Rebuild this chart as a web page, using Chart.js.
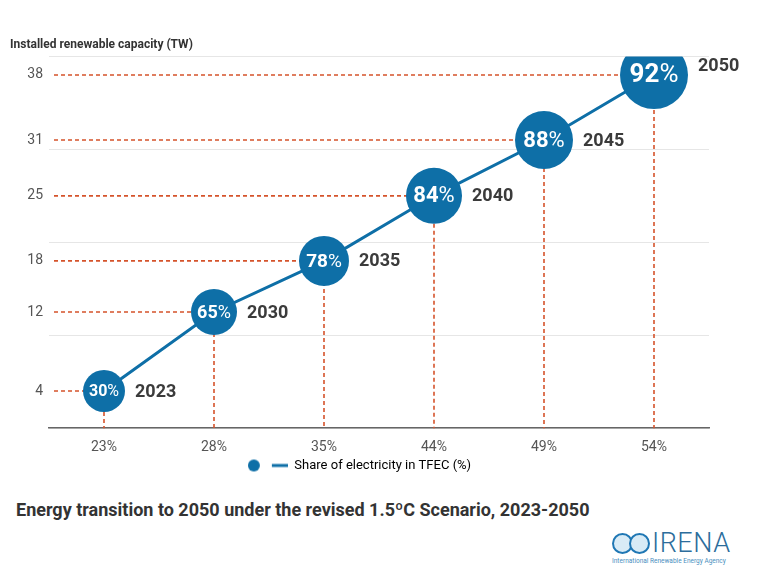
<!DOCTYPE html>
<html lang="en">
<head>
  <meta charset="UTF-8" />
  <title>Energy transition to 2050 - IRENA</title>
  <script src="https://cdn.jsdelivr.net/npm/chart.js"></script>
  <style>
    body {
      margin: 0;
      background: #ffffff;
      font-family: Roboto, sans-serif;
    }
    .wrap {
      position: relative;
      width: 760px;
      height: 580px;
    }
    #chartBox {
      position: absolute;
      left: 0;
      top: 0;
      width: 760px;
      height: 488px;
    }
    .caption {
      position: absolute;
      left: 16px;
      top: 499px;
      font-size: 18px;
      font-weight: bold;
      color: #333;
    }
    .logo {
      position: absolute;
      left: 611px;
      top: 530px;
      width: 120px;
      color: #2c6d9c;
    }
    .logo .rings {
      position: absolute;
      left: 1px;
      top: 3px;
    }
    .logo .ring {
      position: absolute;
      top: 0;
      width: 17px;
      height: 17px;
      border: 2px solid #1f77b4;
      border-radius: 50%;
      background: #d8ebf6;
    }
    .logo .name {
      position: absolute;
      left: 41px;
      top: -3px;
      font-size: 27px;
      font-weight: 300;
      letter-spacing: 0.5px;
    }
    .logo .sub {
      position: absolute;
      left: 1px;
      top: 27px;
      font-size: 6.5px;
      color: #4a8fc0;
      white-space: nowrap;
    }
  </style>
</head>
<body>
  <div class="wrap">
    <div id="chartBox"><canvas id="energyChart"></canvas></div>
    <div class="caption">Energy transition to 2050 under the revised 1.5ºC Scenario, 2023-2050</div>
    <div class="logo">
      <div class="rings">
        <div class="ring" style="left:0"></div>
        <div class="ring" style="left:17px"></div>
      </div>
      <div class="name">IRENA</div>
      <div class="sub">International Renewable Energy Agency</div>
    </div>
  </div>

  <script>
    // x categories: share of electricity in TFEC
    const tfecShare = ['23%', '28%', '35%', '44%', '49%', '54%'];
    // installed renewable capacity (TW)
    const capacity = [4, 12.5, 18, 25, 31, 38];
    const capacityLabels = ['4', '12', '18', '25', '31', '38'];
    // renewable share shown in the bubbles
    const renewShare = [30, 65, 78, 84, 88, 92];
    const years = ['2023', '2030', '2035', '2040', '2045', '2050'];

    const blue = '#0e6fa7';
    const red = '#d5532b';
    const bubbleSize = [21, 23, 25, 28, 29, 34];

    // dashed guides from the axes to every bubble
    const guides = {
      id: 'guides',
      beforeDatasetsDraw(chart) {
        const { ctx, chartArea } = chart;
        const pts = chart.getDatasetMeta(0).data;
        ctx.save();
        ctx.strokeStyle = red;
        ctx.lineWidth = 1.6;
        ctx.setLineDash([4, 3]);
        pts.forEach(p => {
          ctx.beginPath();
          ctx.moveTo(chartArea.left + 5, p.y);
          ctx.lineTo(p.x, p.y);
          ctx.moveTo(p.x, p.y);
          ctx.lineTo(p.x, chartArea.bottom);
          ctx.stroke();
        });
        ctx.restore();
      }
    };

    // percentages inside bubbles + year next to them
    const bubbleText = {
      id: 'bubbleText',
      afterDatasetsDraw(chart) {
        const ctx = chart.ctx;
        const pts = chart.getDatasetMeta(0).data;
        pts.forEach((p, i) => {
          const r = bubbleSize[i];
          const size = Math.round(r * 0.77);
          const num = String(renewShare[i]);
          ctx.save();
          ctx.textBaseline = 'middle';
          ctx.textAlign = 'left';
          ctx.fillStyle = '#ffffff';
          ctx.font = `bold ${size}px Roboto`;
          const w1 = ctx.measureText(num).width;
          ctx.font = `${size}px Roboto`;
          const w2 = ctx.measureText('%').width;
          const x0 = p.x - (w1 + w2) / 2;
          ctx.font = `bold ${size}px Roboto`;
          ctx.fillText(num, x0, p.y + 1);
          ctx.font = `${size}px Roboto`;
          ctx.fillText('%', x0 + w1, p.y + 1);

          ctx.fillStyle = '#3b3b3b';
          ctx.font = 'bold 18px Roboto';
          const dy = i === years.length - 1 ? -8 : 1;
          ctx.fillText(years[i], p.x + r + 10, p.y + dy);
          ctx.restore();
        });
      }
    };

    // legend marker: dot + line
    function legendMarker() {
      const c = document.createElement('canvas');
      c.width = 40;
      c.height = 14;
      const g = c.getContext('2d');
      g.fillStyle = blue;
      g.beginPath();
      g.arc(6, 7, 6, 0, Math.PI * 2);
      g.fill();
      g.fillRect(24, 5.5, 16, 3);
      return c;
    }
    const marker = legendMarker();

    new Chart(document.getElementById('energyChart'), {
      type: 'line',
      data: {
        labels: tfecShare,
        datasets: [{
          label: 'Share of electricity in TFEC (%)',
          data: capacity,
          borderColor: blue,
          backgroundColor: blue,
          borderWidth: 3,
          pointRadius: bubbleSize,
          pointHoverRadius: bubbleSize,
          pointBackgroundColor: blue,
          pointBorderWidth: 0,
          tension: 0,
          yAxisID: 'y'
        }]
      },
      options: {
        responsive: true,
        maintainAspectRatio: false,
        animation: false,
        layout: { padding: { top: 38, left: 10, right: 51, bottom: 6 } },
        plugins: {
          title: {
            display: true,
            text: 'Installed renewable capacity (TW)',
            align: 'start',
            color: '#333',
            font: { family: 'Roboto', size: 12, weight: 'bold' },
            padding: { top: 0, bottom: 4 }
          },
          legend: {
            position: 'bottom',
            labels: {
              usePointStyle: true,
              pointStyleWidth: 40,
              color: '#444',
              font: { family: 'Roboto', size: 13 },
              padding: 0,
              generateLabels: chart => [{
                text: chart.data.datasets[0].label,
                pointStyle: marker,
                fillStyle: blue,
                strokeStyle: blue,
                lineWidth: 0,
                datasetIndex: 0
              }]
            }
          },
          tooltip: { enabled: false }
        },
        scales: {
          x: {
            offset: true,
            grid: { display: false },
            border: { display: true, color: '#666', width: 1.5 },
            ticks: { color: '#555', font: { family: 'Roboto', size: 14 }, padding: 3 }
          },
          y: {
            min: 0,
            max: 40,
            position: 'left',
            grid: { color: '#e6e6e6', lineWidth: 1, drawTicks: false },
            border: { display: false },
            ticks: { display: false, stepSize: 10 },
            afterFit: s => { s.width = 0; }
          },
          yLab: {
            min: 0,
            max: 40,
            position: 'left',
            grid: { display: false, drawTicks: false },
            border: { display: false },
            afterBuildTicks: s => { s.ticks = capacity.map(v => ({ value: v })); },
            ticks: {
              color: '#555',
              font: { family: 'Roboto', size: 14 },
              padding: 6,
              callback: (v, i) => capacityLabels[i]
            },
            afterFit: s => { s.width = 39; }
          }
        }
      },
      plugins: [guides, bubbleText]
    });
  </script>
</body>
</html>
